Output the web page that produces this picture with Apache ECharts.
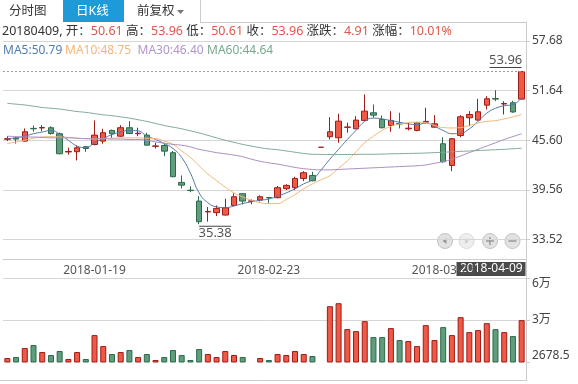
<!DOCTYPE html>
<html><head><meta charset="utf-8">
<script src="https://cdn.jsdelivr.net/npm/echarts@6/dist/echarts.min.js"></script>
<style>html,body{margin:0;padding:0;background:#fff}#c{width:578px;height:384px}</style>
</head><body><div id="c"></div>
<script>
const dates = ['2018-01-05','2018-01-08','2018-01-09','2018-01-10','2018-01-11','2018-01-12','2018-01-15','2018-01-16','2018-01-17','2018-01-18',
'2018-01-19','2018-01-22','2018-01-23','2018-01-24','2018-01-25','2018-01-26','2018-01-29','2018-01-30','2018-01-31','2018-02-01',
'2018-02-02','2018-02-05','2018-02-06','2018-02-07','2018-02-08','2018-02-09','2018-02-12','2018-02-13','2018-02-14','2018-02-22',
'2018-02-23','2018-02-26','2018-02-27','2018-02-28','2018-03-01','2018-03-02','2018-03-05','2018-03-06','2018-03-07','2018-03-08',
'2018-03-09','2018-03-12','2018-03-13','2018-03-14','2018-03-15','2018-03-16','2018-03-19','2018-03-20','2018-03-21','2018-03-22',
'2018-03-23','2018-03-26','2018-03-27','2018-03-28','2018-03-29','2018-03-30','2018-04-02','2018-04-03','2018-04-04','2018-04-09'];

const opens  = [45.72,45.85,45.50,47.05,47.10,47.13,46.40,44.18,44.21,44.82,45.09,45.50,46.80,46.10,47.13,46.40,46.23,44.87,44.97,44.09,
40.47,39.52,38.20,36.88,36.79,36.50,37.67,39.10,38.18,38.32,38.63,38.61,39.71,39.83,40.96,41.32,44.75,46.03,45.91,47.18,
47.00,48.02,48.95,48.14,47.41,47.65,47.00,46.80,47.78,47.20,45.18,42.54,46.19,48.34,48.06,49.88,50.68,50.02,50.17,50.61];
const closes = [45.80,45.75,46.64,47.00,47.15,46.43,43.96,44.24,44.69,44.60,46.23,46.52,46.40,47.13,46.43,46.46,45.01,44.91,44.28,41.17,
40.14,39.48,35.69,36.94,37.31,37.39,38.73,38.20,38.22,38.73,38.60,39.83,40.11,40.96,41.65,40.68,44.75,46.64,47.93,47.22,
48.06,49.15,48.66,47.13,48.02,47.58,47.07,47.74,47.90,47.61,42.99,45.79,48.46,48.74,49.07,50.65,50.62,50.07,49.05,53.96];
const lows   = [45.50,45.20,45.45,46.65,46.71,46.30,43.90,43.85,43.15,44.20,45.00,45.18,45.90,46.00,46.35,46.10,44.95,44.60,43.67,41.10,
39.74,39.28,35.38,35.70,36.37,36.45,37.60,37.80,37.80,38.15,37.92,38.55,39.55,39.54,40.63,40.60,44.75,45.70,45.30,46.52,
46.95,47.95,48.34,47.05,46.64,47.04,46.80,46.70,47.65,47.15,42.87,41.85,45.98,47.32,48.00,49.35,50.36,48.74,48.95,50.61];
const highs  = [46.10,46.00,47.04,47.40,47.44,47.30,46.55,44.70,44.95,44.85,48.02,47.00,46.90,47.44,47.93,47.13,46.50,45.30,45.20,44.30,
41.32,40.00,38.81,37.47,37.67,38.49,39.13,39.15,38.40,38.90,38.65,40.03,40.25,41.16,41.85,41.77,44.75,48.42,48.83,47.74,
48.54,51.18,49.96,48.62,49.15,48.95,47.74,47.85,49.56,48.66,45.98,45.90,48.66,49.15,50.65,50.97,51.70,50.36,50.40,53.96];

const volumes = [5400,6080,12200,14240,9480,7440,10160,4720,9480,4720,21040,13560,8120,9480,10840,6080,8120,4040,6080,10840,
7440,4040,11520,8120,6080,10160,7440,6080,2900,5400,4040,8120,7440,10160,8120,6760,3000,40760,42800,25120,
23760,30560,19680,19680,25800,17640,16960,13560,27840,17640,26480,21040,33280,23080,24440,29200,25120,23080,20360,31240];

const ma5  = [45.8,45.9,46.1,46.4,46.6,46.8,46.35,45.6,44.9,44.7,45.3,45.8,46.3,46.6,46.8,46.75,46.1,45.7,45.2,44.6,
43.5,41.6,39.2,38.0,37.5,37.4,37.6,37.9,38.1,38.3,38.45,38.8,39.2,39.7,40.3,40.8,42.0,43.3,44.5,45.7,
46.8,47.9,48.3,48.2,48.0,47.8,47.6,47.5,47.7,47.3,46.8,46.4,46.45,47.0,47.9,48.9,49.5,49.8,49.95,50.79];
const ma10 = [45.2,45.4,45.6,45.85,46.0,46.05,46.0,45.95,45.85,45.8,45.75,45.8,45.85,45.9,45.9,45.9,45.85,45.8,45.5,45.1,
44.3,43.5,42.5,41.5,40.7,39.9,39.2,38.7,38.3,38.0,37.9,37.9,38.4,39.0,39.7,40.3,40.8,41.3,42.2,43.1,
44.2,45.3,46.1,46.8,47.3,47.6,47.75,47.8,47.75,47.4,47.15,47.1,47.15,47.4,47.7,47.9,48.0,48.2,48.45,48.75];
const ma30 = [46.1,46.05,46.0,46.0,45.95,45.9,45.9,45.9,45.85,45.8,45.8,45.8,45.75,45.75,45.7,45.7,45.6,45.4,45.25,45.1,
45.0,44.8,44.5,44.3,44.1,43.95,43.8,43.6,43.3,43.05,42.85,42.7,42.5,42.3,42.15,42.05,42.0,42.0,42.05,42.1,
42.15,42.2,42.25,42.3,42.35,42.4,42.45,42.5,42.6,42.8,43.0,43.3,43.7,44.1,44.5,44.9,45.3,45.7,46.05,46.40];
const ma60 = [50.1,50.0,49.9,49.75,49.6,49.5,49.4,49.25,49.1,49.0,48.85,48.7,48.6,48.45,48.3,48.1,47.9,47.65,47.4,47.2,
47.0,46.75,46.5,46.2,45.9,45.6,45.35,45.1,44.9,44.7,44.55,44.45,44.3,44.15,44.0,43.9,43.88,43.87,43.87,43.87,
43.88,43.9,43.9,43.92,43.95,43.97,44.0,44.02,44.05,44.1,44.15,44.2,44.25,44.3,44.35,44.4,44.45,44.5,44.57,44.64];

const priceTicks = [33.52, 39.56, 45.60, 51.64, 57.68];
const volTicks = [2678.5, 31339.25, 60000];
const volTickLabels = ['2678.5', '3万', '6万'];
const dateLabelIdx = [10, 30, 50];

const FONT = '"Noto Sans", "Noto Sans CJK SC", sans-serif';
const UP = '#ee5a45', UPB = '#9e1d18', DN = '#5f9d7c', DNB = '#2d6a4b';
const GRID = '#d6d6d6';

const dir = closes.map((c, i) => c > opens[i] ? 1 : c < opens[i] ? -1 : (i > 0 && c >= closes[i - 1] ? 1 : -1));

const chart = echarts.init(document.getElementById('c'), null, {renderer: 'canvas'});
const txt = (x, y, s, fill, size, extra) => Object.assign({type: 'text', x, y, style: {text: s, fill, font: (size || 12) + 'px ' + FONT, textVerticalAlign: 'middle'}}, extra || {});
const line = (x1, y1, x2, y2, c) => ({type: 'line', shape: {x1, y1, x2, y2}, style: {stroke: c || '#ccc', lineWidth: 1}, silent: true});

const option = {
  animation: false,
  grid: [
    {left: 3, right: 52, top: 22, height: 237},
    {left: 3, right: 52, top: 278, height: 84}
  ],
  xAxis: [
    {type: 'category', data: dates, gridIndex: 0,
      axisLine: {lineStyle: {color: '#ccc'}},
      axisTick: {alignWithLabel: true, interval: i => dateLabelIdx.includes(i), length: 3, lineStyle: {color: '#ccc'}},
      axisLabel: {interval: i => dateLabelIdx.includes(i), color: '#555', fontSize: 12, margin: 6, fontFamily: FONT},
      splitLine: {show: false}},
    {type: 'category', data: dates, gridIndex: 1,
      axisLine: {show: false}, axisTick: {show: false}, axisLabel: {show: false}, splitLine: {show: false}}
  ],
  yAxis: [
    {type: 'value', gridIndex: 0, position: 'right', min: 31.15, max: 60,
      axisLine: {show: true, lineStyle: {color: '#ccc'}},
      axisTick: {show: true, length: 4, customValues: priceTicks, lineStyle: {color: '#ccc'}},
      axisLabel: {customValues: priceTicks, formatter: v => v.toFixed(2), color: '#444', fontSize: 12, margin: 6, fontFamily: FONT},
      splitLine: {show: true, lineStyle: {color: GRID}}},
    {type: 'value', gridIndex: 1, position: 'right', min: 2678.5, max: 60000,
      axisLine: {show: true, lineStyle: {color: '#ccc'}},
      axisTick: {show: true, length: 4, customValues: volTicks, lineStyle: {color: '#ccc'}},
      axisLabel: {customValues: volTicks, formatter: v => volTickLabels[volTicks.indexOf(v)] || '', color: '#444', fontSize: 12, margin: 6, fontFamily: FONT,
        verticalAlignMinLabel: 'bottom', verticalAlignMaxLabel: 'top'},
      splitLine: {show: true, lineStyle: {color: ['rgba(0,0,0,0)', GRID, GRID]}}}
  ],
  series: [
    {type: 'candlestick', xAxisIndex: 0, yAxisIndex: 0, barWidth: 6,
      data: dates.map((d, i) => [opens[i], closes[i], lows[i], highs[i]]),
      itemStyle: {color: UP, color0: DN, borderColor: UPB, borderColor0: DNB, borderWidth: 1},
      markLine: {silent: true, symbol: 'none', label: {show: false},
        lineStyle: {type: [2, 2], color: '#9a9a9a', width: 1},
        data: [{yAxis: closes[closes.length - 1]}]},
      markPoint: {silent: true, data: [
        {coord: [dates.length - 1, Math.max(...highs)], symbol: 'rect', symbolSize: [32, 1], symbolOffset: [-16, -4],
          itemStyle: {color: '#444'},
          label: {show: true, position: 'top', distance: 0, formatter: Math.max(...highs).toFixed(2), color: '#555', fontSize: 13, fontFamily: FONT}},
        {coord: [lows.indexOf(Math.min(...lows)), Math.min(...lows)], symbol: 'rect', symbolSize: [32, 1], symbolOffset: [16, 2],
          itemStyle: {color: '#444'},
          label: {show: true, position: 'bottom', distance: 0, formatter: Math.min(...lows).toFixed(2), color: '#555', fontSize: 13, fontFamily: FONT}}
      ]}},
    {type: 'line', name: 'MA5', data: ma5, smooth: true, symbol: 'none', lineStyle: {width: 1, color: '#5279a8'}, z: 3},
    {type: 'line', name: 'MA10', data: ma10, smooth: true, symbol: 'none', lineStyle: {width: 1, color: '#efb77a'}, z: 3},
    {type: 'line', name: 'MA30', data: ma30, smooth: true, symbol: 'none', lineStyle: {width: 1, color: '#a88cbf'}, z: 3},
    {type: 'line', name: 'MA60', data: ma60, smooth: true, symbol: 'none', lineStyle: {width: 1, color: '#7ea993'}, z: 3},
    {type: 'bar', xAxisIndex: 1, yAxisIndex: 1, barWidth: 6,
      data: volumes.map((v, i) => ({value: v, itemStyle: dir[i] > 0 ? {color: UP, borderColor: UPB, borderWidth: 1} : {color: DN, borderColor: DNB, borderWidth: 1}}))}
  ],
  graphic: [
    line(200.5, 0, 200.5, 22),
    line(200, 22.5, 526.5, 22.5),
    line(526.5, 22, 526.5, 381),
    line(0, 380.5, 526.5, 380.5),
    txt(9, 11.5, '分时图', '#333', 12.5),
    {type: 'rect', shape: {x: 63, y: 0, width: 61, height: 22}, style: {fill: '#1e9ad8'}},
    txt(76, 11.5, '日K线', '#fff', 12.5),
    txt(137, 11.5, '前复权', '#333', 12.5),
    {type: 'polygon', shape: {points: [[177, 10], [184, 10], [180.5, 14]]}, style: {fill: '#777'}},
    {type: 'text', x: 2, y: 31.5, style: {
      text: '{k|20180409, 开：}{v|50.61}{k| 高：}{v|53.96}{k| 低：}{v|50.61}{k| 收：}{v|53.96}{k| 涨跌：}{v|4.91}{k| 涨幅：}{v|10.01%}',
      textVerticalAlign: 'middle', font: '12.5px ' + FONT,
      rich: {k: {fill: '#333', font: '12.5px ' + FONT}, v: {fill: '#e2574c', font: '12.5px ' + FONT}}}},
    txt(3, 50.5, 'MA5:50.79', '#4f7dae'),
    txt(65, 50.5, 'MA10:48.75', '#f0b777'),
    txt(137.5, 50.5, 'MA30:46.40', '#b394cc'),
    txt(207, 50.5, 'MA60:44.64', '#79a98f'),
    {type: 'rect', shape: {x: 456.5, y: 262, width: 69, height: 14}, style: {fill: '#4a4a4a'}},
    txt(460, 269, '2018-04-09', '#fff'),
    {type: 'group', children: [
      {type: 'circle', shape: {cx: 445, cy: 241, r: 7.5}, style: {fill: '#e2e2e2', stroke: '#c2c2c2'}},
      {type: 'polygon', shape: {points: [[442.5, 241], [446.5, 238], [446.5, 244]]}, style: {fill: '#999'}},
      {type: 'circle', shape: {cx: 466.5, cy: 241, r: 7.5}, style: {fill: '#eeeeee', stroke: '#d8d8d8'}},
      {type: 'polygon', shape: {points: [[469, 241], [465, 238], [465, 244]]}, style: {fill: '#d0d0d0'}},
      {type: 'circle', shape: {cx: 490, cy: 241, r: 7.5}, style: {fill: '#e2e2e2', stroke: '#c2c2c2'}},
      {type: 'rect', shape: {x: 486, y: 240.25, width: 8, height: 1.5}, style: {fill: '#999'}},
      {type: 'rect', shape: {x: 489.25, y: 237, width: 1.5, height: 8}, style: {fill: '#999'}},
      {type: 'circle', shape: {cx: 512.5, cy: 241, r: 7.5}, style: {fill: '#e2e2e2', stroke: '#c2c2c2'}},
      {type: 'rect', shape: {x: 508.5, y: 240.25, width: 8, height: 1.5}, style: {fill: '#999'}}
    ]}
  ]
};
chart.setOption(option);
</script>
</body></html>
